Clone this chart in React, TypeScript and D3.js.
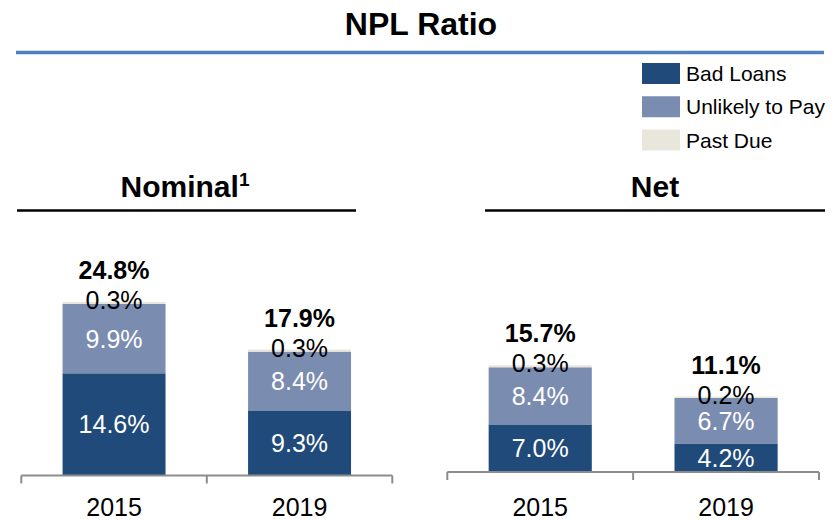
import React from "react";
import * as d3 from "d3";

// values
const years = ["2015", "2019"];
const seriesNames = ["Bad Loans", "Unlikely to Pay", "Past Due"];
const seriesColors = ["#1f4a7a", "#7a8cb0", "#e9e6dc"];

const nominalBadLoans = [14.6, 9.3];
const nominalUnlikely = [9.9, 8.4];
const nominalPastDue = [0.3, 0.3];
const nominalTotal = [24.8, 17.9];

const netBadLoans = [7.0, 4.2];
const netUnlikely = [8.4, 6.7];
const netPastDue = [0.3, 0.2];
const netTotal = [15.7, 11.1];

const W = 839;
const H = 520;
const FONT = "'Liberation Sans', Arial, sans-serif";
const fmt = (v: number) => d3.format(".1f")(v) + "%";

type PanelProps = {
  bad: number[];
  utp: number[];
  pd: number[];
  total: number[];
  x0: number;
  x1: number;
  base: number;
  yMax: number;
  yTop: number;
};

const Panel = ({ bad, utp, pd, total, x0, x1, base, yMax, yTop }: PanelProps) => {
  const rows = years.map((yr, i) => ({ year: yr, bad: bad[i], utp: utp[i], pd: pd[i] }));
  const stack = d3.stack<any>().keys(["bad", "utp", "pd"])(rows);

  const x = d3.scaleBand().domain(years).range([x0, x1]).paddingInner(0.445).paddingOuter(0.2225);
  const y = d3.scaleLinear().domain([0, yMax]).range([base, yTop]);
  const step = x.step();
  const ticks = d3.range(years.length + 1).map((i) => x0 + i * step);
  const cx = (yr: string) => x(yr)! + x.bandwidth() / 2;

  return (
    <g>
      {stack.map((layer, li) =>
        layer.map((seg, i) => (
          <rect
            key={`${li}-${i}`}
            x={x(years[i])}
            y={y(seg[1])}
            width={x.bandwidth()}
            height={y(seg[0]) - y(seg[1])}
            fill={seriesColors[li]}
          />
        ))
      )}
      {/* axis */}
      <line x1={x0} x2={x1} y1={base} y2={base} stroke="#8c8c8c" strokeWidth={2} />
      {ticks.map((t, i) => (
        <line key={i} x1={t} x2={t} y1={base} y2={base + 8} stroke="#8c8c8c" strokeWidth={2} />
      ))}
      {years.map((yr) => (
        <text key={yr} x={cx(yr)} y={516} textAnchor="middle" fontSize={25} fontFamily={FONT} fill="#000">
          {yr}
        </text>
      ))}
      {/* segment labels */}
      {stack.slice(0, 2).map((layer, li) =>
        layer.map((seg, i) => (
          <text
            key={`l${li}-${i}`}
            x={cx(years[i])}
            y={(y(seg[0]) + y(seg[1])) / 2}
            dy="0.36em"
            textAnchor="middle"
            fontSize={25}
            fontFamily={FONT}
            fill="#fff"
          >
            {fmt(li === 0 ? bad[i] : utp[i])}
          </text>
        ))
      )}
      {stack[2].map((seg, i) => (
        <text
          key={`pd${i}`}
          x={cx(years[i])}
          y={y(seg[1]) - 2}
          dy="0.36em"
          textAnchor="middle"
          fontSize={25}
          fontFamily={FONT}
          fill="#000"
        >
          {fmt(pd[i])}
        </text>
      ))}
      {stack[2].map((seg, i) => (
        <text
          key={`t${i}`}
          x={cx(years[i])}
          y={y(seg[1]) - 32}
          dy="0.36em"
          textAnchor="middle"
          fontSize={25}
          fontWeight="bold"
          fontFamily={FONT}
          fill="#000"
        >
          {fmt(total[i])}
        </text>
      ))}
    </g>
  );
};

export default function App() {
  const legendY = d3.scaleLinear().domain([0, 2]).range([73.5, 140]);

  return (
    <div style={{ position: "fixed", left: 0, top: 0 }}>
      <svg width={W} height={H} style={{ display: "block", background: "#fff" }}>
        <text x={421} y={35} textAnchor="middle" fontSize={32} fontWeight="bold" fontFamily={FONT}>
          NPL Ratio
        </text>
        <line x1={16} x2={824} y1={52.5} y2={52.5} stroke="#4f81bd" strokeWidth={3.5} />

        {seriesNames.map((name, i) => (
          <g key={name}>
            <rect x={642} y={legendY(i) - 10.5} width={38} height={21} fill={seriesColors[i]} />
            <text x={686} y={legendY(i)} dy="0.36em" fontSize={21} fontFamily={FONT} fill="#000">
              {name}
            </text>
          </g>
        ))}

        <text x={185} y={197} textAnchor="middle" fontSize={30} fontWeight="bold" fontFamily={FONT}>
          Nominal
          <tspan fontSize={19} dy={-11}>
            1
          </tspan>
        </text>
        <line x1={17} x2={356} y1={210.5} y2={210.5} stroke="#000" strokeWidth={2.5} />

        <text x={655} y={197} textAnchor="middle" fontSize={30} fontWeight="bold" fontFamily={FONT}>
          Net
        </text>
        <line x1={485} x2={825} y1={210.5} y2={210.5} stroke="#000" strokeWidth={2.5} />

        <Panel
          bad={nominalBadLoans}
          utp={nominalUnlikely}
          pd={nominalPastDue}
          total={nominalTotal}
          x0={21.3}
          x1={392.3}
          base={475.5}
          yMax={25}
          yTop={300.5}
        />
        <Panel
          bad={netBadLoans}
          utp={netUnlikely}
          pd={netPastDue}
          total={netTotal}
          x0={447.3}
          x1={819}
          base={472}
          yMax={16}
          yTop={363.2}
        />
      </svg>
    </div>
  );
}
